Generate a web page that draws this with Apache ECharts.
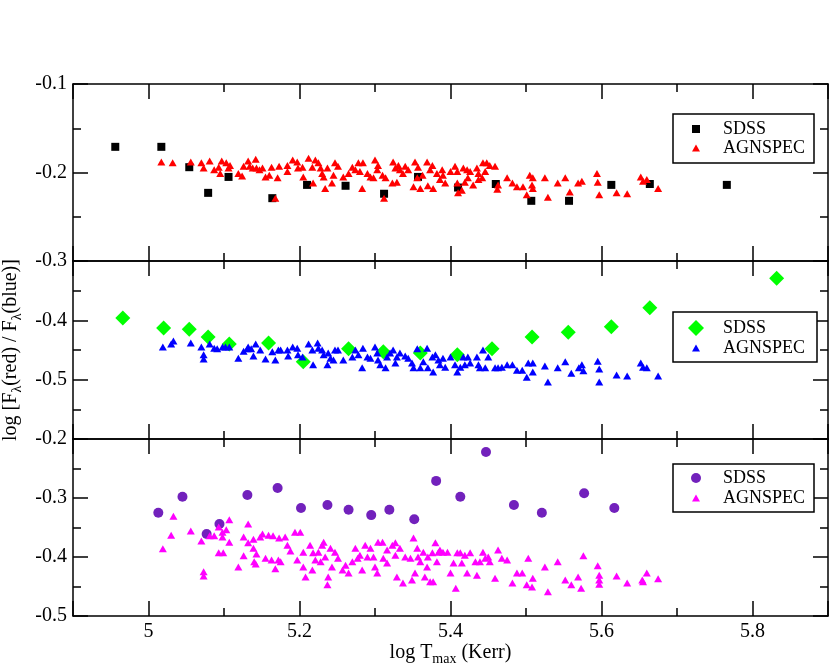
<!DOCTYPE html>
<html>
<head>
<meta charset="utf-8">
<script src="https://cdn.jsdelivr.net/npm/echarts@6.0.0/dist/echarts.min.js"></script>
<style>
html, body { margin: 0; padding: 0; background: #fff; }
#chart { width: 830px; height: 672px; }
</style>
</head>
<body>
<div id="chart"></div>
<script>
// tick labels
var xTickLabels = ['5', '5.2', '5.4', '5.6', '5.8'];
var topYTicks = ['-0.3', '-0.2', '-0.1'];
var midYTicks = ['-0.5', '-0.4'];
var botYTicks = ['-0.5', '-0.4', '-0.3', '-0.2'];

// top panel: SDSS (squares) and AGNSPEC (red triangles)
var topSdss = [[4.956,-0.171],[5.017,-0.171],[5.054,-0.194],[5.079,-0.223],[5.106,-0.205],[5.164,-0.229],
	[5.210,-0.214],[5.261,-0.215],[5.312,-0.224],[5.357,-0.205],[5.410,-0.217],[5.460,-0.213],
	[5.507,-0.232],[5.557,-0.232],[5.613,-0.214],[5.664,-0.213],[5.766,-0.214]];
var topAgn = [[5.017,-0.188],[5.032,-0.189],[5.056,-0.188],[5.070,-0.189],[5.073,-0.195],[5.081,-0.187],
	[5.087,-0.197],[5.093,-0.194],[5.097,-0.187],[5.095,-0.201],[5.103,-0.189],[5.108,-0.192],
	[5.106,-0.195],[5.119,-0.201],[5.124,-0.204],[5.126,-0.193],[5.132,-0.187],[5.134,-0.193],
	[5.138,-0.195],[5.142,-0.185],[5.143,-0.195],[5.147,-0.197],[5.151,-0.195],[5.155,-0.205],
	[5.160,-0.203],[5.163,-0.194],[5.168,-0.229],[5.171,-0.206],[5.173,-0.193],[5.184,-0.199],
	[5.184,-0.192],[5.191,-0.186],[5.197,-0.188],[5.198,-0.195],[5.204,-0.194],[5.205,-0.205],
	[5.212,-0.184],[5.217,-0.194],[5.221,-0.186],[5.225,-0.189],[5.228,-0.195],[5.230,-0.201],
	[5.232,-0.205],[5.237,-0.195],[5.234,-0.218],[5.218,-0.212],[5.243,-0.212],[5.245,-0.203],
	[5.247,-0.189],[5.251,-0.193],[5.258,-0.205],[5.265,-0.201],[5.270,-0.194],[5.274,-0.197],
	[5.278,-0.189],[5.280,-0.199],[5.283,-0.218],[5.284,-0.189],[5.290,-0.201],[5.294,-0.205],
	[5.298,-0.206],[5.300,-0.186],[5.303,-0.197],[5.304,-0.192],[5.310,-0.203],[5.312,-0.229],
	[5.314,-0.206],[5.323,-0.212],[5.324,-0.188],[5.327,-0.195],[5.329,-0.211],[5.331,-0.192],
	[5.333,-0.197],[5.337,-0.201],[5.340,-0.193],[5.344,-0.197],[5.351,-0.216],[5.353,-0.188],
	[5.356,-0.206],[5.357,-0.194],[5.360,-0.218],[5.363,-0.203],[5.369,-0.188],[5.370,-0.215],
	[5.373,-0.197],[5.376,-0.192],[5.377,-0.218],[5.382,-0.201],[5.386,-0.208],[5.389,-0.197],
	[5.390,-0.203],[5.393,-0.212],[5.400,-0.199],[5.406,-0.193],[5.409,-0.199],[5.409,-0.212],
	[5.410,-0.223],[5.415,-0.220],[5.417,-0.195],[5.419,-0.211],[5.422,-0.197],[5.423,-0.206],
	[5.426,-0.199],[5.430,-0.214],[5.435,-0.195],[5.437,-0.201],[5.437,-0.208],[5.442,-0.206],
	[5.443,-0.189],[5.446,-0.199],[5.448,-0.189],[5.452,-0.192],[5.459,-0.193],[5.462,-0.219],
	[5.463,-0.214],[5.475,-0.206],[5.482,-0.212],[5.488,-0.216],[5.496,-0.216],[5.501,-0.225],
	[5.505,-0.203],[5.508,-0.214],[5.509,-0.206],[5.509,-0.218],[5.525,-0.206],[5.529,-0.228],
	[5.542,-0.212],[5.552,-0.206],[5.558,-0.222],[5.569,-0.212],[5.574,-0.210],[5.594,-0.201],
	[5.595,-0.211],[5.597,-0.225],[5.620,-0.223],[5.634,-0.224],[5.652,-0.205],[5.655,-0.210],
	[5.660,-0.208],[5.675,-0.218]];

// middle panel: SDSS (green diamonds) and AGNSPEC (blue triangles)
var midSdss = [[4.966,-0.396],[5.020,-0.413],[5.054,-0.415],[5.079,-0.428],[5.107,-0.440],[5.159,-0.438],
	[5.205,-0.470],[5.265,-0.448],[5.311,-0.453],[5.360,-0.455],[5.409,-0.458],[5.455,-0.448],
	[5.508,-0.428],[5.556,-0.420],[5.613,-0.411],[5.664,-0.379],[5.832,-0.329]];
var midAgn = [[5.019,-0.445],[5.030,-0.440],[5.033,-0.435],[5.056,-0.438],[5.070,-0.445],[5.073,-0.458],
	[5.073,-0.465],[5.081,-0.440],[5.087,-0.447],[5.091,-0.448],[5.098,-0.445],[5.102,-0.445],
	[5.107,-0.445],[5.119,-0.464],[5.126,-0.452],[5.131,-0.448],[5.132,-0.445],[5.136,-0.448],
	[5.139,-0.460],[5.142,-0.440],[5.148,-0.450],[5.155,-0.465],[5.164,-0.453],[5.168,-0.467],
	[5.172,-0.450],[5.175,-0.450],[5.184,-0.450],[5.185,-0.460],[5.191,-0.445],[5.197,-0.447],
	[5.198,-0.458],[5.204,-0.462],[5.212,-0.440],[5.217,-0.450],[5.218,-0.475],[5.224,-0.438],
	[5.225,-0.447],[5.230,-0.450],[5.232,-0.458],[5.237,-0.475],[5.238,-0.455],[5.241,-0.464],
	[5.245,-0.467],[5.247,-0.450],[5.251,-0.450],[5.258,-0.467],[5.270,-0.462],[5.274,-0.450],
	[5.278,-0.458],[5.283,-0.480],[5.284,-0.447],[5.290,-0.462],[5.294,-0.464],[5.300,-0.445],
	[5.303,-0.455],[5.304,-0.467],[5.307,-0.475],[5.314,-0.480],[5.316,-0.462],[5.320,-0.455],
	[5.324,-0.450],[5.327,-0.472],[5.329,-0.462],[5.333,-0.455],[5.340,-0.460],[5.344,-0.464],
	[5.349,-0.472],[5.351,-0.480],[5.356,-0.448],[5.360,-0.480],[5.364,-0.470],[5.369,-0.447],
	[5.370,-0.480],[5.376,-0.462],[5.377,-0.487],[5.380,-0.458],[5.384,-0.467],[5.386,-0.475],
	[5.390,-0.464],[5.393,-0.479],[5.400,-0.462],[5.406,-0.475],[5.409,-0.487],[5.413,-0.479],
	[5.417,-0.462],[5.419,-0.475],[5.423,-0.462],[5.426,-0.472],[5.435,-0.462],[5.437,-0.475],
	[5.439,-0.480],[5.443,-0.450],[5.446,-0.480],[5.450,-0.462],[5.459,-0.480],[5.463,-0.480],
	[5.468,-0.479],[5.475,-0.475],[5.482,-0.475],[5.488,-0.484],[5.495,-0.484],[5.501,-0.496],
	[5.503,-0.472],[5.509,-0.472],[5.509,-0.487],[5.525,-0.477],[5.529,-0.504],[5.542,-0.480],
	[5.552,-0.470],[5.560,-0.489],[5.570,-0.480],[5.574,-0.475],[5.576,-0.485],[5.595,-0.469],
	[5.597,-0.482],[5.597,-0.504],[5.620,-0.492],[5.634,-0.494],[5.652,-0.472],[5.655,-0.479],
	[5.660,-0.480],[5.675,-0.494]];

// bottom panel: SDSS (indigo circles) and AGNSPEC (magenta triangles)
var botSdss = [[5.013,-0.325],[5.045,-0.298],[5.077,-0.361],[5.094,-0.344],[5.131,-0.295],[5.171,-0.283],
	[5.202,-0.317],[5.237,-0.312],[5.265,-0.320],[5.295,-0.329],[5.319,-0.320],[5.352,-0.336],
	[5.381,-0.271],[5.413,-0.298],[5.447,-0.222],[5.484,-0.312],[5.521,-0.325],[5.577,-0.292],
	[5.617,-0.317]];
var botAgn = [[5.019,-0.386],[5.033,-0.331],[5.030,-0.363],[5.056,-0.356],[5.070,-0.373],[5.073,-0.425],
	[5.073,-0.432],[5.081,-0.364],[5.087,-0.364],[5.093,-0.349],[5.093,-0.393],[5.098,-0.358],
	[5.098,-0.366],[5.099,-0.393],[5.103,-0.354],[5.107,-0.337],[5.107,-0.375],[5.119,-0.417],
	[5.126,-0.366],[5.126,-0.398],[5.132,-0.344],[5.132,-0.376],[5.139,-0.370],[5.139,-0.385],
	[5.140,-0.408],[5.142,-0.412],[5.143,-0.395],[5.148,-0.366],[5.151,-0.361],[5.155,-0.402],
	[5.159,-0.363],[5.163,-0.405],[5.165,-0.364],[5.168,-0.420],[5.172,-0.405],[5.173,-0.368],
	[5.175,-0.408],[5.181,-0.366],[5.184,-0.380],[5.188,-0.390],[5.194,-0.358],[5.201,-0.358],
	[5.197,-0.405],[5.205,-0.392],[5.205,-0.417],[5.208,-0.434],[5.214,-0.380],[5.217,-0.422],
	[5.218,-0.393],[5.221,-0.405],[5.225,-0.392],[5.228,-0.408],[5.230,-0.380],[5.232,-0.375],
	[5.234,-0.400],[5.237,-0.447],[5.238,-0.434],[5.241,-0.385],[5.243,-0.417],[5.247,-0.392],
	[5.251,-0.402],[5.257,-0.422],[5.261,-0.414],[5.265,-0.427],[5.270,-0.408],[5.274,-0.385],
	[5.277,-0.402],[5.280,-0.397],[5.283,-0.422],[5.287,-0.380],[5.290,-0.400],[5.294,-0.385],
	[5.298,-0.400],[5.300,-0.417],[5.303,-0.427],[5.304,-0.375],[5.310,-0.375],[5.311,-0.402],
	[5.316,-0.388],[5.316,-0.410],[5.323,-0.380],[5.327,-0.376],[5.327,-0.397],[5.329,-0.434],
	[5.333,-0.385],[5.337,-0.444],[5.340,-0.400],[5.347,-0.402],[5.349,-0.439],[5.351,-0.368],
	[5.353,-0.427],[5.356,-0.385],[5.357,-0.400],[5.360,-0.408],[5.364,-0.392],[5.366,-0.434],
	[5.369,-0.417],[5.370,-0.400],[5.373,-0.442],[5.376,-0.393],[5.377,-0.442],[5.380,-0.376],
	[5.382,-0.408],[5.384,-0.392],[5.386,-0.388],[5.390,-0.392],[5.396,-0.392],[5.400,-0.427],
	[5.404,-0.410],[5.407,-0.453],[5.409,-0.393],[5.413,-0.393],[5.415,-0.410],[5.419,-0.397],
	[5.422,-0.427],[5.426,-0.393],[5.433,-0.408],[5.435,-0.431],[5.439,-0.408],[5.443,-0.392],
	[5.446,-0.402],[5.450,-0.400],[5.452,-0.408],[5.459,-0.436],[5.463,-0.388],[5.468,-0.402],
	[5.475,-0.405],[5.482,-0.444],[5.488,-0.427],[5.495,-0.427],[5.501,-0.447],[5.503,-0.402],
	[5.508,-0.451],[5.509,-0.436],[5.525,-0.417],[5.529,-0.459],[5.542,-0.408],[5.552,-0.439],
	[5.560,-0.447],[5.569,-0.434],[5.573,-0.453],[5.576,-0.398],[5.595,-0.415],[5.597,-0.431],
	[5.597,-0.439],[5.597,-0.446],[5.620,-0.432],[5.634,-0.444],[5.654,-0.439],[5.655,-0.442],
	[5.660,-0.427],[5.675,-0.437]];

var FONT = '"Liberation Serif", "DejaVu Serif", serif';
var SQUARE = 'path://M0,0L1,0L1,1L0,1Z';
var DIAMOND = 'path://M1,0L2,1L1,2L0,1Z';
var TRIANGLE = 'path://M4,0L8,7L0,7Z';

var panels = [
	{ top: 84, height: 177, min: -0.3, max: -0.1, ticks: topYTicks },
	{ top: 261, height: 178, min: -0.6, max: -0.3, ticks: midYTicks },
	{ top: 439, height: 177, min: -0.5, max: -0.2, ticks: botYTicks }
];

var lineStyle = { color: '#000', width: 1.5 };

function $extend(a, b) {
	for (var k in b) { a[k] = b[k]; }
	return a;
}

function tickOpts() {
	return {
		axisLine: { show: true, lineStyle: lineStyle },
		axisTick: { show: true, inside: true, length: 15, lineStyle: lineStyle },
		minorTick: { show: true, splitNumber: 2, length: 8, lineStyle: lineStyle },
		splitLine: { show: false }
	};
}

var subStyle = { sub: { fontFamily: FONT, fontSize: 14, color: '#000', padding: [12, 0, 0, 0] } };

var grids = [], xAxes = [], yAxes = [];
panels.forEach(function (p, i) {
	grids.push({ left: 73, right: 2, top: p.top, height: p.height, outerBoundsMode: 'none' });

	// bottom and top (mirror) x axes
	['bottom', 'top'].forEach(function (pos) {
		var ax = $extend({
			type: 'value', gridIndex: i, position: pos,
			min: 4.9, max: 5.9, splitNumber: 5,
			axisLabel: {
				show: pos === 'bottom' && i === 2,
				margin: 6,
				fontFamily: FONT, fontSize: 20, color: '#000',
				formatter: function (v) {
					var s = String(Math.round(v * 10) / 10);
					return xTickLabels.indexOf(s) !== -1 ? s : '';
				}
			}
		}, tickOpts());
		if (pos === 'bottom' && i === 2) {
			ax.name = 'log T{sub|max} (Kerr)';
			ax.nameLocation = 'middle';
			ax.nameGap = 24;
			ax.nameMoveOverlap = false;
			ax.nameTextStyle = { fontFamily: FONT, fontSize: 20, color: '#000', rich: subStyle };
		}
		xAxes.push(ax);
	});

	// left and right (mirror) y axes
	['left', 'right'].forEach(function (pos) {
		var ax = $extend({
			type: 'value', gridIndex: i, position: pos,
			min: p.min, max: p.max, interval: 0.1,
			axisLabel: {
				show: pos === 'left',
				margin: 6,
				fontFamily: FONT, fontSize: 20, color: '#000',
				formatter: function (v) {
					var s = v.toFixed(1);
					return p.ticks.indexOf(s) !== -1 ? s : '';
				}
			}
		}, tickOpts());
		if (pos === 'left' && i === 1) {
			ax.name = 'log [F{sub|λ}(red) / F{sub|λ}(blue)]';
			ax.nameLocation = 'middle';
			ax.nameRotate = 90;
			ax.nameGap = 49;
			ax.nameMoveOverlap = false;
			ax.nameTextStyle = { fontFamily: FONT, fontSize: 20, color: '#000', rich: subStyle };
		}
		yAxes.push(ax);
	});
});

function scatter(name, i, data, symbol, size, color) {
	return {
		type: 'scatter', name: name,
		xAxisIndex: i * 2, yAxisIndex: i * 2,
		data: data, symbol: symbol, symbolSize: size,
		itemStyle: { color: color, opacity: 1 },
		silent: true
	};
}

var series = [
	scatter('SDSS-1', 0, topSdss, 'rect', 8, '#000000'),
	scatter('AGNSPEC-1', 0, topAgn, 'triangle', [8, 7], '#ff0000'),
	scatter('SDSS-2', 1, midSdss, 'diamond', 15, '#00ff00'),
	scatter('AGNSPEC-2', 1, midAgn, 'triangle', [8, 7], '#0000ff'),
	scatter('SDSS-3', 2, botSdss, 'circle', 10, '#7221bc'),
	scatter('AGNSPEC-3', 2, botAgn, 'triangle', [8, 7], '#ff00ff')
];

// one legend per entry so each symbol keeps its own size;
// icon centre sits at x=696, text starts 27px to its right
function legendItem(name, icon, w, h, centerY) {
	return {
		data: [{ name: name, icon: icon }],
		left: 696 - w / 2, top: centerY - 9, padding: 0,
		orient: 'vertical',
		itemWidth: 44, itemHeight: h,
		symbolKeepAspect: true,
		selectedMode: false,
		textStyle: { fontFamily: FONT, fontSize: 18, color: '#000' },
		formatter: function (n) { return n.split('-')[0]; }
	};
}

var legends = [
	legendItem('SDSS-1', SQUARE, 8, 8, 129),
	legendItem('AGNSPEC-1', TRIANGLE, 8, 7, 148),
	legendItem('SDSS-2', DIAMOND, 16, 16, 328),
	legendItem('AGNSPEC-2', TRIANGLE, 8, 7, 348),
	legendItem('SDSS-3', 'circle', 10, 10, 478),
	legendItem('AGNSPEC-3', TRIANGLE, 8, 7, 498)
];

function frame(x, y, w, h) {
	return {
		type: 'rect', z: 3,
		shape: { x: x, y: y, width: w, height: h },
		style: { fill: '#fff', stroke: '#000', lineWidth: 1.5 }
	};
}

var myChart = echarts.init(document.getElementById('chart'));
myChart.setOption({
	animation: false,
	backgroundColor: '#fff',
	grid: grids,
	xAxis: xAxes,
	yAxis: yAxes,
	legend: legends,
	graphic: [
		frame(673, 114, 141, 49),
		frame(673, 312, 144, 50),
		frame(673, 464, 141, 48)
	],
	series: series
});
</script>
</body>
</html>
